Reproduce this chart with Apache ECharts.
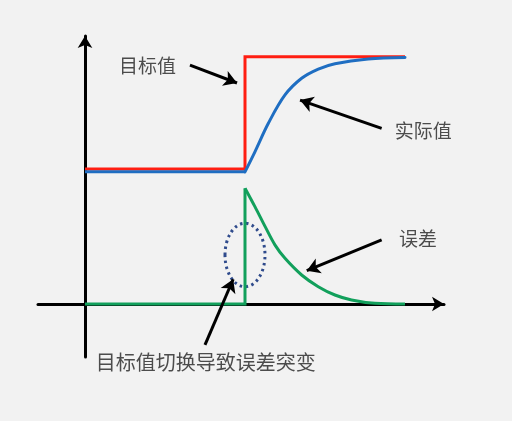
<!DOCTYPE html>
<html>
<head>
<meta charset="utf-8">
<script src="https://cdn.jsdelivr.net/npm/echarts@6/dist/echarts.min.js"></script>
<style>
html,body{margin:0;padding:0;background:#F2F2F2;}
#c{width:512px;height:421px;}
</style>
</head>
<body>
<div id="c"></div>
<script>
// ---- data ----
const timeTarget = [0, 5, 5, 10];
const targetValues = [6, 6, 11, 11];

const timeActual = [0, 5, 5.31, 5.73, 6.25, 6.77, 7.29, 7.81, 8.85, 10];
const actualValues = [5.88, 5.88, 6.77, 8.04, 9.30, 10.04, 10.45, 10.69, 10.90, 10.97];

const timeError = [0, 5, 5, 5.31, 5.63, 5.94, 6.25, 6.77, 7.29, 7.81, 8.33, 9.06, 10];
const errorValues = [0, 0, 5.15, 4.33, 3.44, 2.62, 2.03, 1.29, 0.77, 0.40, 0.18, 0.03, 0];

const labelTexts = ['目标值', '实际值', '误差', '目标值切换导致误差突变'];
const labelPos = [[1.95, 10.59], [10.57, 7.72], [10.41, 2.89], [3.77, -2.58]];

const arrowFrom = [[3.28, 10.63], [9.27, 7.81], [9.27, 2.85], [3.75, -1.82]];
const arrowTo = [[4.75, 9.83], [6.72, 9.07], [6.93, 1.48], [4.63, 1.10]];

const ellipseCenter = [5, 2.18];
const ellipseRadii = [0.625, 1.41];

// ---- build ----
const pairs = (xs, ys) => xs.map((x, i) => [x, ys[i]]);
const targetData = pairs(timeTarget, targetValues);
const actualData = pairs(timeActual, actualValues);
const errorData = pairs(timeError, errorValues);

const chart = echarts.init(document.getElementById('c'), null, {renderer: 'canvas'});
const font = '"Noto Sans CJK SC", "Noto Sans", sans-serif';

const axisLine = {
  show: true,
  onZero: true,
  symbol: ['none', 'arrow'],
  symbolSize: [11, 12],
  lineStyle: {color: '#000', width: 3}
};

chart.setOption({
  animation: false,
  backgroundColor: '#F2F2F2',
  grid: {left: 38, top: 36, width: 406, height: 321, containLabel: false},
  xAxis: {
    type: 'value', min: -1.46875, max: 11.21875,
    axisLine: axisLine, axisTick: {show: false}, axisLabel: {show: false}, splitLine: {show: false}
  },
  yAxis: {
    type: 'value', min: -2.358, max: 11.922,
    axisLine: axisLine, axisTick: {show: false}, axisLabel: {show: false}, splitLine: {show: false}
  },
  series: [
    {
      name: '目标值', type: 'line', data: targetData, showSymbol: false, symbol: 'none',
      lineStyle: {color: '#FF1E12', width: 3, join: 'miter'},
      markLine: {
        silent: true, symbol: ['none', 'arrow'], symbolSize: [12, 13],
        lineStyle: {color: '#000', width: 3, type: 'solid'},
        label: {show: false},
        data: arrowFrom.map((p, i) => [{coord: p}, {coord: arrowTo[i]}])
      }
    },
    {
      name: '实际值-flat', type: 'line', data: actualData.slice(0, 2), symbol: 'none',
      lineStyle: {color: '#1F6EC2', width: 3}
    },
    {
      name: '实际值', type: 'line', data: actualData.slice(1), symbol: 'none',
      smooth: 0.35,
      lineStyle: {color: '#1F6EC2', width: 3, cap: 'round'}
    },
    {
      name: '误差-step', type: 'line', data: errorData.slice(0, 3), symbol: 'none',
      lineStyle: {color: '#12A05C', width: 3, join: 'miter'}
    },
    {
      name: '误差', type: 'line', data: errorData.slice(2), symbol: 'none',
      smooth: 0.35,
      lineStyle: {color: '#12A05C', width: 3}
    },
    {
      type: 'custom', silent: true, clip: false,
      data: [[ellipseCenter[0], ellipseCenter[1]]],
      renderItem: function (params, api) {
        const c = api.coord([api.value(0), api.value(1)]);
        const s = api.size(ellipseRadii);
        return {
          type: 'ellipse',
          shape: {cx: c[0], cy: c[1], rx: s[0], ry: s[1]},
          style: {fill: null, stroke: '#2F4B8C', lineWidth: 3, lineDash: [2.5, 3.5]}
        };
      }
    },
    {
      type: 'scatter', silent: true, clip: false, symbolSize: 0,
      data: labelPos.map((p, i) => ({value: p, name: labelTexts[i]})),
      label: {
        show: true, position: 'inside', formatter: '{b}',
        color: '#222', fontFamily: font, fontSize: 19,
        rich: {}
      },
      labelLayout: function (p) {
        return p.dataIndex === 3 ? {fontSize: 20} : {};
      }
    }
  ]
});
</script>
</body>
</html>
